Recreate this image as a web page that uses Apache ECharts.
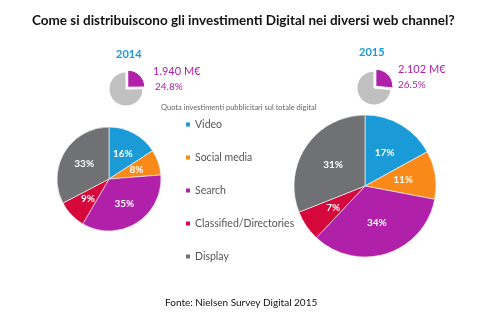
<!DOCTYPE html>
<html>
<head>
<meta charset="utf-8">
<script src="https://cdn.jsdelivr.net/npm/echarts@6/dist/echarts.min.js"></script>
<style>
  html, body { margin: 0; padding: 0; background: #fff; }
  #chart { width: 490px; height: 328px; }
</style>
</head>
<body>
<div id="chart"></div>
<script>
// Digital ad spend split by web channel, 2014 vs 2015
const channels = ['Video', 'Social media', 'Search', 'Classified/Directories', 'Display'];
const share2014 = [16, 8, 35, 9, 33];
const share2015 = [17, 11, 34, 7, 31];
const colors = ['#1a9ad6', '#f98a1a', '#b020a8', '#d6073a', '#707174'];

// Digital share of total advertising investment
const years = ['2014', '2015'];
const digitalShare = [24.8, 26.5];
const digitalSpend = ['1.940 M€', '2.102 M€'];

const FONT = 'Lato';
const chart = echarts.init(document.getElementById('chart'));

function channelData(values) {
  return channels.map((name, i) => ({ name, value: values[i], itemStyle: { color: colors[i] } }));
}

function bigPie(values, center, radius) {
  return {
    type: 'pie',
    center: center,
    radius: radius,
    startAngle: 90,
    clockwise: true,
    animation: false,
    silent: true,
    itemStyle: { borderColor: '#ffffff', borderWidth: 0.6 },
    label: {
      show: true,
      position: 'inside',
      formatter: p => p.value + '%',
      color: '#ffffff',
      fontFamily: FONT,
      fontWeight: 'bold',
      fontSize: 10
    },
    labelLine: { show: false },
    data: channelData(values)
  };
}

function smallPie(share, center) {
  return {
    type: 'pie',
    center: center,
    radius: 17,
    startAngle: 90,
    clockwise: true,
    animation: false,
    silent: true,
    selectedMode: 'multiple',
    selectedOffset: 2.5,
    label: { show: false },
    labelLine: { show: false },
    itemStyle: { borderColor: '#ffffff', borderWidth: 1 },
    data: [
      { name: 'digital', value: share, selected: true, itemStyle: { color: '#b020a8' } },
      { name: 'altro', value: 100 - share, itemStyle: { color: '#c0c0c0' } }
    ]
  };
}

function text(x, y, str, style) {
  return {
    type: 'text', left: x, top: y,
    style: Object.assign({ text: str, fontFamily: FONT, fill: '#333', fontSize: 10 }, style)
  };
}

const option = {
  backgroundColor: '#ffffff',
  title: {
    text: 'Come si distribuiscono gli investimenti Digital nei diversi web channel?',
    left: 27, top: 9,
    textStyle: { fontFamily: FONT, fontWeight: 'bold', fontSize: 13.5, color: '#111' }
  },
  legend: {
    orient: 'vertical',
    left: 184, top: 119,
    padding: 0,
    itemWidth: 6, itemHeight: 6,
    itemGap: 22,
    icon: 'rect',
    selectedMode: false,
    data: channels,
    textStyle: { fontFamily: FONT, fontSize: 10.5, color: '#555', padding: [0, 0, 0, -1] }
  },
  graphic: [
    text(116, 49, years[0], { fill: '#1a9ad6', fontWeight: 'bold', fontSize: 11 }),
    text(359, 47, years[1], { fill: '#1a9ad6', fontWeight: 'bold', fontSize: 11 }),
    text(153, 66, digitalSpend[0], { fill: '#b020a8', fontSize: 11 }),
    text(155, 82, digitalShare[0].toFixed(1) + '%', { fill: '#b020a8', fontSize: 10 }),
    text(398, 64, digitalSpend[1], { fill: '#b020a8', fontSize: 11 }),
    text(398, 80, digitalShare[1].toFixed(1) + '%', { fill: '#b020a8', fontSize: 10 }),
    text(161, 104, 'Quota investimenti pubblicitari sul totale digital', { fill: '#666', fontSize: 7.5 }),
    text(165, 298, 'Fonte: Nielsen Survey Digital 2015', { fill: '#111', fontSize: 10 })
  ],
  series: [
    bigPie(share2014, [109, 179], 52),
    bigPie(share2015, [365, 186], 71),
    smallPie(digitalShare[0], [126, 89]),
    smallPie(digitalShare[1], [374, 88])
  ]
};

chart.setOption(option);
</script>
</body>
</html>
